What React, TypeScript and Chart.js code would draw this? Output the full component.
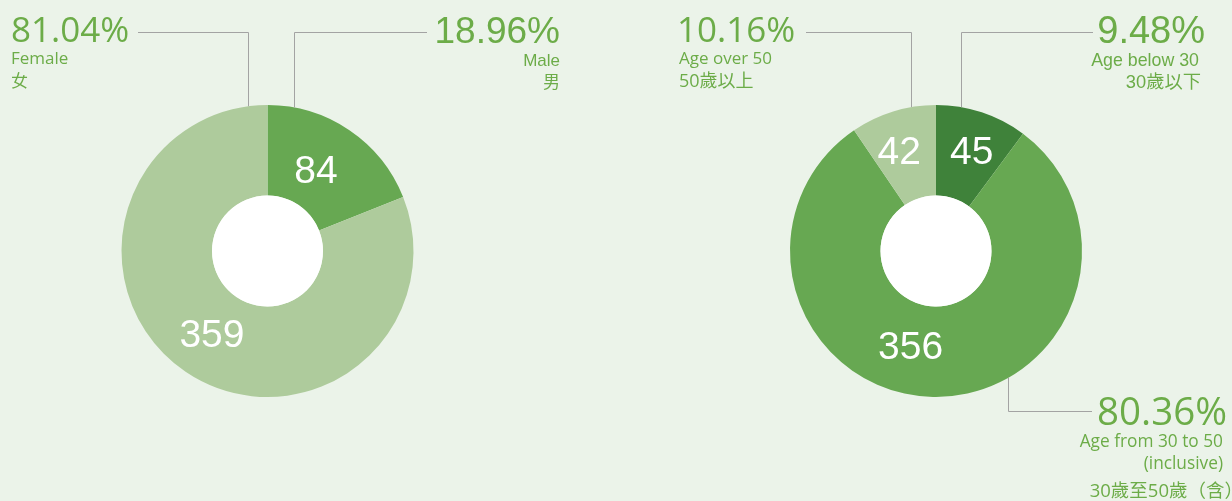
import React, { useEffect, useRef } from "react";
import { Chart, registerables } from "chart.js";

Chart.register(...registerables);

// ---- data ----
const genderCategories = ["Male", "Female"];
const genderCategoriesZh = ["男", "女"];
const genderValues = [84, 359];
const genderPercentLabels = ["18.96%", "81.04%"];

const ageCategories = ["Age below 30", "Age from 30 to 50", "Age over 50"];
const ageCategoriesExtra = ["", "(inclusive)", ""];
const ageCategoriesZh = ["30歲以下", "30歲至50歲（含）", "50歲以上"];
const ageValues = [45, 356, 42];
const agePercentLabels = ["9.48%", "80.36%", "10.16%"];

// ---- styles ----
const DARK = "#3f823a";
const MID = "#67a852";
const LIGHT = "#aecb9c";
const BG = "#ebf3e9";
const TEXT = "#6cac48";
const LINE = "#a3a3a3";
const W = 1232;
const H = 501;

const ARIAL = "'Liberation Sans', Arial, 'Noto Sans CJK TC', sans-serif";
const HUMANIST = "'Open Sans', 'Noto Sans CJK TC', sans-serif";
const CJK = "'Noto Sans CJK TC', sans-serif";

type TextLine = { text: string; font: string; y: number; x: number };
type Callout = {
  index: number;
  vx: number;
  hy: number;
  hx: number;
  side: "top" | "bottom";
  align: "left" | "right";
  lines: TextLine[];
};
type ValueTweak = { da: number; r: number };

const deg = (d: number) => (d * Math.PI) / 180;

function extrasPlugin(id: string, values: number[], tweaks: ValueTweak[], callouts: Callout[]) {
  return {
    id,
    afterDatasetsDraw(chart: any) {
      const ctx: CanvasRenderingContext2D = chart.ctx;
      const meta = chart.getDatasetMeta(0);
      const a0: any = meta.data[0];
      const { x: cx, y: cy, innerRadius, outerRadius } = a0.getProps(
        ["x", "y", "innerRadius", "outerRadius"],
        true
      );
      ctx.save();
      // white hole
      ctx.beginPath();
      ctx.arc(cx, cy, innerRadius, 0, Math.PI * 2);
      ctx.fillStyle = "#ffffff";
      ctx.fill();

      // values inside slices
      ctx.fillStyle = "#ffffff";
      ctx.font = `39px ${ARIAL}`;
      ctx.textAlign = "center";
      ctx.textBaseline = "alphabetic";
      meta.data.forEach((el: any, i: number) => {
        const { startAngle, endAngle } = el.getProps(["startAngle", "endAngle"], true);
        const t = tweaks[i];
        const mid = (startAngle + endAngle) / 2 + deg(t.da);
        const x = cx + Math.cos(mid) * t.r;
        const y = cy + Math.sin(mid) * t.r;
        ctx.fillText(String(values[i]), x, y + 14);
      });

      // leader lines
      ctx.strokeStyle = LINE;
      ctx.lineWidth = 1;
      callouts.forEach((c) => {
        const dx = c.vx - cx;
        const dy = Math.sqrt(Math.max(0, outerRadius * outerRadius - dx * dx));
        const ey = c.side === "top" ? cy - dy : cy + dy;
        ctx.beginPath();
        ctx.moveTo(c.vx, ey);
        ctx.lineTo(c.vx, c.hy);
        ctx.lineTo(c.hx, c.hy);
        ctx.stroke();
      });

      // callout texts
      ctx.fillStyle = TEXT;
      callouts.forEach((c) => {
        ctx.textAlign = c.align;
        c.lines.forEach((l) => {
          if (!l.text) return;
          ctx.font = l.font;
          ctx.fillText(l.text, l.x, l.y);
        });
      });
      ctx.restore();
    },
  };
}

function makeDonut(
  canvas: HTMLCanvasElement,
  labels: string[],
  values: number[],
  colors: string[],
  padding: { left: number; right: number; top: number; bottom: number },
  plugin: any
) {
  return new Chart(canvas, {
    type: "doughnut",
    data: {
      labels,
      datasets: [
        {
          data: values,
          backgroundColor: colors,
          borderWidth: 0,
          hoverOffset: 0,
        },
      ],
    },
    options: {
      animation: false,
      responsive: false,
      cutout: "38%",
      layout: { padding },
      plugins: { legend: { display: false }, tooltip: { enabled: false } },
      events: [],
    },
    plugins: [plugin],
  });
}

export default function App() {
  const leftRef = useRef<HTMLCanvasElement>(null);
  const rightRef = useRef<HTMLCanvasElement>(null);

  useEffect(() => {
    const genderCallouts: Callout[] = [
      {
        index: 0,
        vx: 294.5,
        hy: 32.5,
        hx: 427,
        side: "top",
        align: "right",
        lines: [
          { text: genderPercentLabels[0], font: `37px ${ARIAL}`, x: 560, y: 43 },
          { text: genderCategories[0], font: `17px ${ARIAL}`, x: 560, y: 66 },
          { text: genderCategoriesZh[0], font: `17px ${CJK}`, x: 560, y: 88 },
        ],
      },
      {
        index: 1,
        vx: 248.5,
        hy: 32.5,
        hx: 138,
        side: "top",
        align: "left",
        lines: [
          { text: genderPercentLabels[1], font: `35px ${HUMANIST}`, x: 11, y: 42 },
          { text: genderCategories[1], font: `17px ${HUMANIST}`, x: 11, y: 64 },
          { text: genderCategoriesZh[1], font: `17px ${CJK}`, x: 11, y: 87 },
        ],
      },
    ];
    const ageCallouts: Callout[] = [
      {
        index: 0,
        vx: 961.5,
        hy: 32.5,
        hx: 1093,
        side: "top",
        align: "right",
        lines: [
          { text: agePercentLabels[0], font: `38px ${ARIAL}`, x: 1205, y: 43 },
          { text: ageCategories[0], font: `17.8px ${ARIAL}`, x: 1199, y: 66 },
          { text: ageCategoriesZh[0], font: `18.3px ${ARIAL}`, x: 1201, y: 88 },
        ],
      },
      {
        index: 1,
        vx: 1008.5,
        hy: 411.5,
        hx: 1092,
        side: "bottom",
        align: "right",
        lines: [
          { text: agePercentLabels[1], font: `38.5px ${HUMANIST}`, x: 1227, y: 425 },
          { text: ageCategories[1], font: `17.3px ${HUMANIST}`, x: 1223, y: 447 },
          { text: ageCategoriesExtra[1], font: `17.3px ${HUMANIST}`, x: 1223, y: 469 },
          { text: ageCategoriesZh[1], font: `18.5px ${HUMANIST}`, x: 1243, y: 497 },
        ],
      },
      {
        index: 2,
        vx: 911.5,
        hy: 32.5,
        hx: 806,
        side: "top",
        align: "left",
        lines: [
          { text: agePercentLabels[2], font: `35px ${HUMANIST}`, x: 677, y: 42 },
          { text: ageCategories[2], font: `17px ${HUMANIST}`, x: 679, y: 64 },
          { text: ageCategoriesZh[2], font: `18px ${HUMANIST}`, x: 679, y: 87 },
        ],
      },
    ];

    const left = makeDonut(
      leftRef.current!,
      genderCategories,
      genderValues,
      [MID, LIGHT],
      { left: 121.5, right: W - 413.5, top: 105, bottom: H - 397 },
      extrasPlugin(
        "genderExtras",
        genderValues,
        [
          { da: -3.5, r: 95 },
          { da: 0, r: 99 },
        ],
        genderCallouts
      )
    );
    const right = makeDonut(
      rightRef.current!,
      ageCategories,
      ageValues,
      [DARK, MID, LIGHT],
      { left: 790, right: W - 1082, top: 105, bottom: H - 397 },
      extrasPlugin(
        "ageExtras",
        ageValues,
        [
          { da: 1.2, r: 107 },
          { da: 14, r: 97 },
          { da: -3, r: 107 },
        ],
        ageCallouts
      )
    );
    return () => {
      left.destroy();
      right.destroy();
    };
  }, []);

  return (
    <div
      style={{
        position: "absolute",
        left: 0,
        top: 0,
        width: W,
        height: H,
        background: BG,
        overflow: "hidden",
      }}
    >
      <canvas
        ref={leftRef}
        width={W}
        height={H}
        style={{ position: "absolute", left: 0, top: 0, width: W, height: H }}
      />
      <canvas
        ref={rightRef}
        width={W}
        height={H}
        style={{ position: "absolute", left: 0, top: 0, width: W, height: H }}
      />
    </div>
  );
}
